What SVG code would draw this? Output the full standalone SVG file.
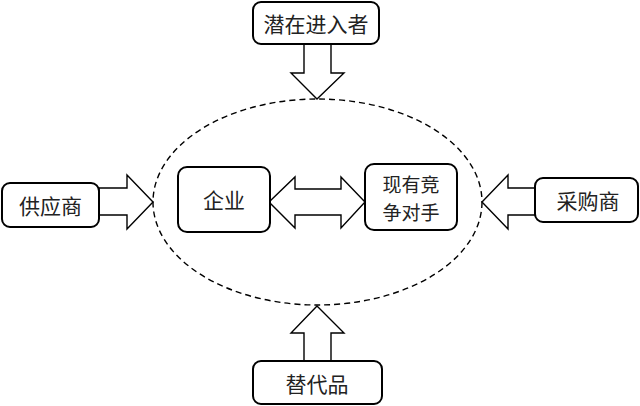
<svg xmlns="http://www.w3.org/2000/svg" width="640" height="406" viewBox="0 0 640 406">
<style>
.box{fill:#fff;stroke:#000;stroke-width:2}
.arr{fill:#fff;stroke:#000;stroke-width:1.4;stroke-linejoin:miter}
.t{font-family:"Noto Sans CJK SC","Noto Sans CJK JP",sans-serif;font-size:21px;fill:#222;text-anchor:middle;dominant-baseline:central}
.t2{font-size:19px}
</style>
<rect width="640" height="406" fill="#fff"/>
<ellipse cx="317.5" cy="202" rx="164.5" ry="103" fill="none" stroke="#000" stroke-width="1.4" stroke-dasharray="6 4"/>
<g id="connectors">
<polygon class="arr" points="304,44 331,44 331,73 344,73 317,99 291,73 304,73"/>
<polygon class="arr" points="99,188 127,188 127,175 153,202 127,229 127,215 99,215"/>
<polygon class="arr" points="535,188 508,188 508,175 482,202 508,229 508,215 535,215"/>
<polygon class="arr" points="304,361 304,333 291,333 317,306 344,333 331,333 331,361"/>
<polygon class="arr" points="269,202 295,177 295,189 341,189 341,177 365,202 341,228 341,215 295,215 295,228"/>
</g>
<g id="n-entrants"><rect class="box" x="253" y="2" width="126" height="42" rx="8"/><text class="t" x="316" y="23">潜在进入者</text></g>
<g id="n-suppliers"><rect class="box" x="2" y="183" width="97" height="44" rx="8"/><text class="t" x="50.5" y="205">供应商</text></g>
<g id="n-buyers"><rect class="box" x="535" y="178" width="103" height="44" rx="8"/><text class="t" x="588" y="200">采购商</text></g>
<g id="n-substitutes"><rect class="box" x="253" y="361" width="129" height="43" rx="8"/><text class="t" x="317" y="383">替代品</text></g>
<g id="n-firm"><rect class="box" x="178" y="167" width="92" height="65" rx="9"/><text class="t" x="224" y="199">企业</text></g>
<g id="n-rivals"><rect class="box" x="365" y="164" width="92" height="66" rx="9"/><text class="t t2" x="411" y="183">现有竞</text><text class="t t2" x="411" y="211">争对手</text></g>
</svg>
